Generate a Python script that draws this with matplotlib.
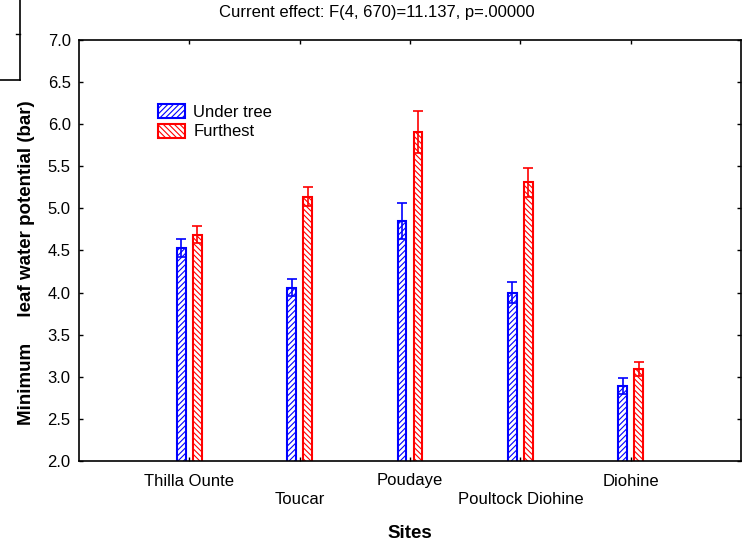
import numpy as np
import matplotlib
matplotlib.use('Agg')
import matplotlib.pyplot as plt
import matplotlib.patches as mpatches
from matplotlib.lines import Line2D

plt.rcParams['font.family'] = ['Liberation Sans', 'DejaVu Sans']
plt.rcParams['hatch.linewidth'] = 0.8

# site means and standard errors (bar)
sites = ['Thilla Ounte', 'Toucar', 'Poudaye', 'Poultock Diohine', 'Diohine']
under_tree = [4.53, 4.06, 4.85, 4.00, 2.89]
under_tree_err = [0.11, 0.10, 0.21, 0.12, 0.09]
furthest = [4.69, 5.14, 5.91, 5.31, 3.09]
furthest_err = [0.10, 0.11, 0.25, 0.17, 0.08]
y_ticks = [2.0, 2.5, 3.0, 3.5, 4.0, 4.5, 5.0, 5.5, 6.0, 6.5, 7.0]

blue = '#0000ff'
red = '#ff0000'

fig = plt.figure(figsize=(7.47, 5.40), dpi=100)
ax = fig.add_axes([79/747, 79/540, 662/747, 421/540])

x = np.arange(1, len(sites) + 1)
offset = 0.0734
width = 0.079

ax.bar(x - offset, under_tree, width, color='white', edgecolor=blue,
       hatch='//////', linewidth=1.5, zorder=2)
ax.bar(x + offset, furthest, width, color='white', edgecolor=red,
       hatch='\\\\\\\\\\\\', linewidth=1.5, zorder=2)
ax.errorbar(x - offset, under_tree, yerr=under_tree_err, fmt='none',
            ecolor=blue, elinewidth=1.2, capsize=3.9, capthick=1.2, zorder=3)
ax.errorbar(x + offset, furthest, yerr=furthest_err, fmt='none',
            ecolor=red, elinewidth=1.2, capsize=3.9, capthick=1.2, zorder=3)

ax.set_xlim(0, len(sites) + 1)
ax.set_ylim(2.0, 7.0)
ax.set_yticks(y_ticks)
ax.set_yticklabels(['%.1f' % t for t in y_ticks])

# stagger every other site name onto a second row
labels = [s if i % 2 == 0 else '\n' + s for i, s in enumerate(sites)]
ax.set_xticks(x)
ax.set_xticklabels(labels, linespacing=1.3)

ax.tick_params(axis='both', direction='in', length=3, width=1.0,
               top=True, right=True, labelsize=12, colors='black')
ax.tick_params(axis='x', pad=9)
ax.tick_params(axis='y', pad=6)
for spine in ax.spines.values():
    spine.set_linewidth(1.2)

handles = [
    mpatches.Patch(facecolor='white', edgecolor=blue, hatch='//////', linewidth=1.5, label='Under tree'),
    mpatches.Patch(facecolor='white', edgecolor=red, hatch='\\\\\\\\\\\\', linewidth=1.5, label='Furthest'),
]
ax.legend(handles=handles, loc='upper left', bbox_to_anchor=(0.12, 0.848),
          frameon=False, fontsize=12, handlelength=1.6, handleheight=0.95,
          handletextpad=0.5, labelspacing=0.22, borderpad=0, borderaxespad=0)

fig.text(377/747, 1 - 13/540, 'Current effect: F(4, 670)=11.137, p=.00000',
         ha='center', va='center', fontsize=12)
fig.text(410/747, 1 - 533/540, 'Sites', ha='center', va='center',
         fontsize=13.5, fontweight='bold')
fig.text(27/747, 1 - 263/540, 'Minimum     leaf water potential (bar)',
         ha='center', va='center', rotation=90, fontsize=13.5, fontweight='bold')

# corner of the neighbouring frame
fig.add_artist(Line2D([20/747, 20/747], [1, 1 - 80/540], color='black', linewidth=1.2,
                      transform=fig.transFigure))
fig.add_artist(Line2D([0, 20/747], [1 - 80/540, 1 - 80/540], color='black', linewidth=1.2,
                      transform=fig.transFigure))
fig.add_artist(Line2D([16/747, 20/747], [1 - 34/540, 1 - 34/540], color='black', linewidth=1.0,
                      transform=fig.transFigure))

fig.savefig('out.png', dpi=100)
